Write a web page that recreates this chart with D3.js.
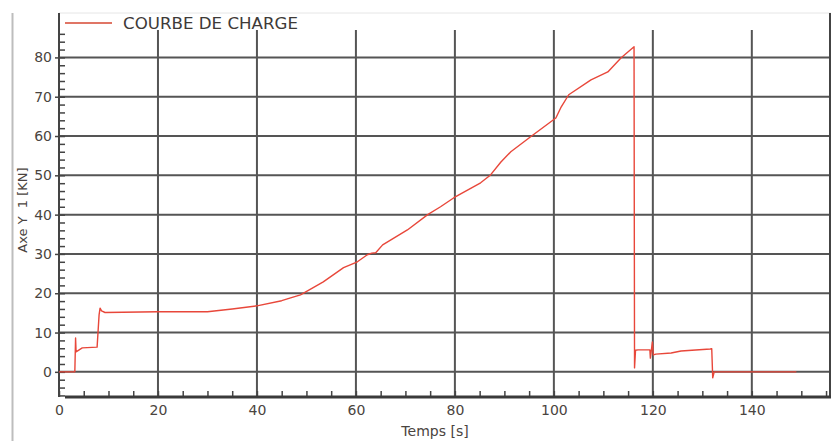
<!DOCTYPE html>
<html><head><meta charset="utf-8">
<script src="https://cdn.jsdelivr.net/npm/d3@7"></script>
<style>
body{margin:0;background:#fff;}
svg{display:block;font-family:"DejaVu Sans",Verdana,sans-serif;}
</style></head>
<body>
<svg id="c" width="833" height="441"></svg>
<script>
const times = [0, 3.2, 3.35, 3.45, 4.7, 7.7, 8.1, 8.3, 8.6, 9.3, 20, 30, 35, 40, 45, 46.8, 48.8, 53.4, 57.5, 60.3, 62.3, 63.2, 64, 65.4, 70.4, 74.5, 77.1, 79.8, 85.2, 87.2, 89.3, 91.3, 95.3, 100.4, 101.4, 103, 107.5, 110.9, 113.6, 116.2, 116.3, 116.5, 117, 119.4, 119.5, 119.9, 120.1, 120.6, 123.7, 125.7, 131.6, 131.9, 132.1, 132.4, 149];
const loads = [0, 0, 8.6, 5.1, 6.1, 6.3, 14.5, 16.2, 15.5, 15.1, 15.3, 15.3, 16, 16.8, 18.1, 18.8, 19.6, 22.9, 26.5, 28, 29.8, 30.2, 30.3, 32.3, 36.1, 40, 42, 44.3, 48.1, 50.1, 53.4, 56, 59.8, 64.6, 67.2, 70.5, 74.3, 76.3, 79.9, 82.7, 1.0, 5.5, 5.6, 5.6, 3.5, 7.6, 4.3, 4.5, 4.8, 5.3, 5.8, 5.9, -1.5, 0, 0];
const xMajor = [0, 20, 40, 60, 80, 100, 120, 140];
const yMajor = [0, 10, 20, 30, 40, 50, 60, 70, 80];
const xMinor = d3.range(0, 156, 5);
const yMinor = d3.range(-6, 87, 2);
const seriesName = "COURBE DE CHARGE";
const xTitle = "Temps [s]";
const yTitle = "Axe Y  1 [KN]";

const svg = d3.select("#c");
const L = 59, R = 831, T = 13, B = 397;
const x = d3.scaleLinear().domain([0, 156]).range([L, R]);
const y = d3.scaleLinear().domain([-6.4, 91.3]).range([B, T]);
const textCol = "#4a4440";
const gridCol = "#555";

// outer left frame line
svg.append("line").attr("x1",12.5).attr("x2",12.5).attr("y1",13).attr("y2",441)
  .attr("stroke","#bdbdbd").attr("stroke-width",2);
// top light border
svg.append("line").attr("x1",L).attr("x2",R).attr("y1",T).attr("y2",T)
  .attr("stroke","#e6e6e6").attr("stroke-width",1);

// grid
const g = svg.append("g");
g.selectAll("line.h").data(yMajor).join("line").attr("class","h")
  .attr("x1",L).attr("x2",R).attr("y1",d=>y(d)).attr("y2",d=>y(d))
  .attr("stroke",gridCol).attr("stroke-width",2);
g.selectAll("line.v").data(xMajor.filter(d=>d>0)).join("line").attr("class","v")
  .attr("x1",d=>x(d)).attr("x2",d=>x(d)).attr("y1",30).attr("y2",B)
  .attr("stroke",gridCol).attr("stroke-width",2);
// right border
svg.append("line").attr("x1",R-1).attr("x2",R-1).attr("y1",T).attr("y2",B)
  .attr("stroke","#444").attr("stroke-width",2);

// x minor ticks (pointing up)
svg.append("g").attr("transform",`translate(0,${B})`)
  .call(d3.axisTop(x).tickValues(xMinor).tickSize(6).tickFormat(""))
  .call(s=>{s.select(".domain").remove(); s.selectAll(".tick line").attr("stroke","#444").attr("stroke-width",1.5);});
// x axis thick line
svg.append("line").attr("x1",65).attr("x2",R).attr("y1",B).attr("y2",B)
  .attr("stroke","#3a3a3a").attr("stroke-width",3);
// x labels
svg.append("g").attr("transform",`translate(0,${B})`)
  .call(d3.axisBottom(x).tickValues(xMajor).tickSize(0).tickPadding(8).tickFormat(d3.format("d")))
  .call(s=>{s.select(".domain").remove(); s.selectAll("text").attr("fill",textCol).style("font-size","14px").style("font-family","DejaVu Sans");});

// y minor ticks (pointing right)
svg.append("g").attr("transform",`translate(${L},0)`)
  .call(d3.axisRight(y).tickValues(yMinor).tickSize(6).tickFormat(""))
  .call(s=>{s.select(".domain").remove(); s.selectAll(".tick line").attr("stroke","#444").attr("stroke-width",1.5);});
// y major ticks & labels
svg.append("g").attr("transform",`translate(${L},0)`)
  .call(d3.axisLeft(y).tickValues(yMajor).tickSize(4).tickPadding(3).tickFormat(d3.format("d")))
  .call(s=>{s.select(".domain").remove(); s.selectAll(".tick line").attr("stroke","#444").attr("stroke-width",1.5);
    s.selectAll("text").attr("fill",textCol).style("font-size","14px").style("font-family","DejaVu Sans");});
// y axis line
svg.append("line").attr("x1",L).attr("x2",L).attr("y1",T).attr("y2",B)
  .attr("stroke","#444").attr("stroke-width",2);

// data line
const data = times.map((t,i)=>[t, loads[i]]);
svg.append("path").datum(data)
  .attr("d", d3.line().x(d=>x(d[0])).y(d=>y(d[1])))
  .attr("fill","none").attr("stroke","#e8473a").attr("stroke-width",1.4).attr("stroke-linejoin","round");

// legend
svg.append("line").attr("x1",65).attr("x2",112).attr("y1",23).attr("y2",23)
  .attr("stroke","#e07565").attr("stroke-width",2);
svg.append("text").attr("x",123).attr("y",29).text(seriesName)
  .attr("fill","#3e3a38").style("font-size","15px")
  .attr("textLength",175).attr("lengthAdjust","spacingAndGlyphs");

// titles
svg.append("text").attr("x",435).attr("y",436).attr("text-anchor","middle").text(xTitle)
  .attr("fill",textCol).style("font-size","14px");
svg.append("text").attr("transform","translate(27,210) rotate(-90)").attr("text-anchor","middle")
  .attr("xml:space","preserve").style("white-space","pre").text(yTitle)
  .attr("fill",textCol).style("font-size","13px");
</script>
</body></html>
